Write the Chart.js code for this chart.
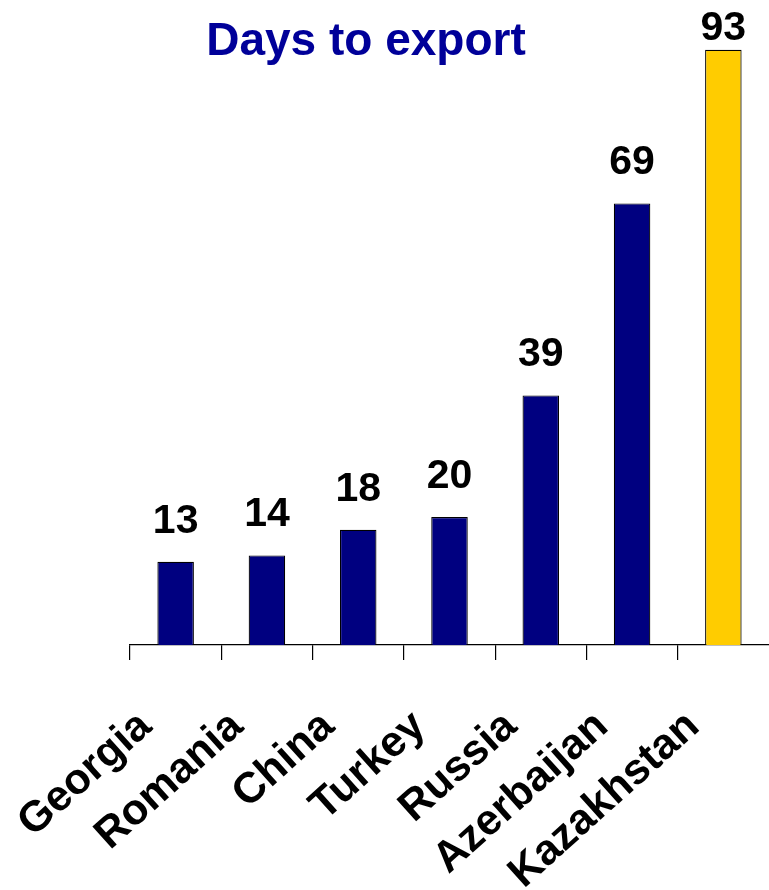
<!DOCTYPE html>
<html>
<head>
<meta charset="utf-8">
<title>Days to export</title>
<script src="https://cdn.jsdelivr.net/npm/chart.js@4/dist/chart.umd.min.js"></script>
<style>
  html, body { margin: 0; padding: 0; background: #ffffff; }
  #wrap { position: relative; width: 769px; height: 890px; }
</style>
</head>
<body>
<div id="wrap"><canvas id="chart" width="769" height="890"></canvas></div>
<script>
// Days needed to export, by country
const countries = ['Georgia', 'Romania', 'China', 'Turkey', 'Russia', 'Azerbaijan', 'Kazakhstan'];
const days = [13, 14, 18, 20, 39, 69, 93];
const barColors = ['#000080', '#000080', '#000080', '#000080', '#000080', '#000080', '#FFCC00'];
const chartTitle = 'Days to export';

const FONT = '"Liberation Sans", Arial, Helvetica, sans-serif';
const LABEL_ANGLE = 42 * Math.PI / 180;

// Title, value labels above the bars and slanted country names
const annotate = {
  id: 'annotate',
  afterDraw(chart) {
    const ctx = chart.ctx;
    const xs = chart.scales.x;
    const area = chart.chartArea;

    ctx.save();
    ctx.fillStyle = '#000099';
    ctx.font = 'bold 46px ' + FONT;
    ctx.textAlign = 'center';
    ctx.textBaseline = 'alphabetic';
    ctx.fillText(chartTitle, 366, 55);
    ctx.restore();

    const meta = chart.getDatasetMeta(0);
    ctx.save();
    ctx.fillStyle = '#000000';
    ctx.font = 'bold 41px ' + FONT;
    ctx.textAlign = 'center';
    ctx.textBaseline = 'alphabetic';
    meta.data.forEach((bar, i) => {
      // keep the tallest bar's value inside the canvas
      const y = Math.max(bar.y - 29, 40);
      ctx.fillText(String(days[i]), bar.x, y);
    });
    ctx.restore();

    ctx.save();
    ctx.fillStyle = '#000000';
    ctx.font = 'bold 43px ' + FONT;
    ctx.textAlign = 'right';
    ctx.textBaseline = 'alphabetic';
    countries.forEach((name, i) => {
      const cx = xs.getPixelForValue(i);
      ctx.save();
      ctx.translate(cx - 22, area.bottom + 84);
      ctx.rotate(-LABEL_ANGLE);
      ctx.fillText(name, 0, 0);
      ctx.restore();
    });
    ctx.restore();
  }
};

new Chart(document.getElementById('chart'), {
  type: 'bar',
  data: {
    labels: countries,
    datasets: [{
      data: days,
      backgroundColor: barColors,
      borderColor: '#000000',
      borderWidth: 1.2,
      borderSkipped: 'bottom',
      categoryPercentage: 1,
      barPercentage: 0.4
    }]
  },
  options: {
    responsive: false,
    animation: false,
    devicePixelRatio: 1,
    layout: { padding: { left: 130, right: 0, top: 5, bottom: 230 } },
    plugins: {
      legend: { display: false },
      title: { display: false },
      tooltip: { enabled: false }
    },
    scales: {
      x: {
        offset: true,
        grid: {
          display: true,
          offset: true,
          drawOnChartArea: false,
          drawTicks: true,
          tickLength: 15,
          // tick marks between categories only, none at the right end
          color: (c) => (c.type === 'tick' ? '#000000' : 'rgba(0,0,0,0)'),
          lineWidth: 1.2
        },
        border: { display: true, color: '#000000', width: 1.2 },
        ticks: { display: false }
      },
      y: {
        display: false,
        min: 0,
        max: 100
      }
    }
  },
  plugins: [annotate]
});
</script>
</body>
</html>
